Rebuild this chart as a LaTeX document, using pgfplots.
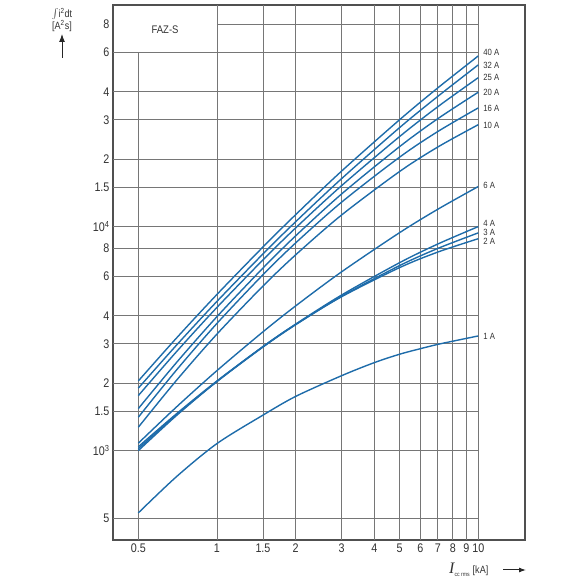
\documentclass[border=0pt]{standalone}
\usepackage{fontspec}
\setmainfont{Liberation Sans}[FakeStretch=0.86]
\newfontfamily\serifI{Liberation Serif}
\usepackage{pgfplots}
\pgfplotsset{compat=1.18}
\usetikzlibrary{arrows.meta}
\definecolor{curve}{RGB}{30,108,170}
\definecolor{gridc}{RGB}{118,118,118}
\definecolor{framec}{RGB}{80,80,80}
\definecolor{txt}{RGB}{50,50,50}
\tikzset{fuse/.style={curve, solid, line width=1.4pt, smooth, mark=none}}

\begin{document}
\begin{tikzpicture}[x=1pt,y=1pt]
\useasboundingbox (0,0) rectangle (580,580);
\begin{loglogaxis}[
  at={(113pt,40pt)}, anchor=south west,
  scale only axis, width=412pt, height=535pt,
  xmin=0.4, xmax=15.1, ymin=399, ymax=97600,
  axis line style={framec, line width=2pt},
  major tick length=0pt, minor tick length=0pt,
  xtick={0.5,1,1.5,2,3,4,5,6,7,8,9,10},
  xticklabels={0.5,1,1.5,2,3,4,5,6,7,8,9,10},
  ytick={500,1000,1500,2000,3000,4000,6000,8000,10000,15000,20000,30000,40000,60000,80000},
  yticklabels={5,10\textsuperscript{3},1.5,2,3,4,6,8,10\textsuperscript{4},1.5,2,3,4,6,8},
  tick label style={font=\fontsize{12.5}{14}\selectfont, text=txt},
  clip=false,
]
% grid: vertical lines
\pgfplotsinvokeforeach{1,1.5,2,3,4,5,6,7,8,9,10}{
  \draw[gridc, line width=0.9pt] (axis cs:#1,399) -- (axis cs:#1,97600);
}
\draw[gridc, line width=0.9pt] (axis cs:0.5,399) -- (axis cs:0.5,60000);
% grid: horizontal lines
\pgfplotsinvokeforeach{500,1000,1500,2000,3000,4000,6000,8000,10000,15000,20000,30000,40000,60000}{
  \draw[gridc, line width=0.9pt] (axis cs:0.4,#1) -- (axis cs:10,#1);
}
\draw[gridc, line width=0.9pt] (axis cs:1,80000) -- (axis cs:10,80000);

% 40 A
\addplot[fuse] coordinates {(0.5,2046) (0.7,3180) (1,4980) (1.5,8110) (2,11300) (3,17700) (5,30000) (7,41600) (10,57800)};
% 32 A
\addplot[fuse] coordinates {(0.5,1900) (0.7,2956) (1,4637) (1.5,7551) (2,10510) (3,16380) (5,27670) (7,38140) (10,52720)};
% 25 A
\addplot[fuse] coordinates {(0.5,1760) (0.7,2764) (1,4359) (1.5,7104) (2,9863) (3,15240) (5,25230) (7,34290) (10,46240)};
% 20 A
\addplot[fuse] coordinates {(0.5,1540) (0.7,2472) (1,3965) (1.5,6531) (2,9090) (3,13990) (5,22750) (7,30320) (10,39810)};
% 16 A
\addplot[fuse] coordinates {(0.5,1409) (0.7,2289) (1,3698) (1.5,6098) (2,8453) (3,12860) (5,20420) (7,26570) (10,33880)};
% 10 A
\addplot[fuse] coordinates {(0.5,1271) (0.7,2059) (1,3313) (1.5,5427) (2,7478) (3,11270) (5,17620) (7,22660) (10,28510)};
% 6 A
\addplot[fuse] coordinates {(0.5,1079) (0.7,1566) (1,2276) (1.5,3391) (2,4424) (3,6284) (5,9397) (7,11950) (10,15100)};
% 4 A
\addplot[fuse] coordinates {(0.5,1040) (0.7,1460) (1,2046) (1.5,2912) (2,3669) (3,4950) (5,6902) (7,8360) (10,10000)};
% 3 A
\addplot[fuse] coordinates {(0.5,1020) (0.7,1446) (1,2034) (1.5,2899) (2,3646) (3,4883) (5,6699) (7,7991) (10,9376)};
% 2 A
\addplot[fuse] coordinates {(0.5,1000) (0.7,1434) (1,2036) (1.5,2913) (2,3658) (3,4865) (5,6561) (7,7697) (10,8831)};
% 1 A
\addplot[fuse] coordinates {(0.5,527) (0.7,765) (1,1075) (1.5,1440) (2,1745) (3,2160) (4,2470) (5,2693) (6,2850) (7,2980) (8,3080) (10,3250)};

\begin{scope}[every node/.style={anchor=west, font=\fontsize{9}{10}\selectfont, text=txt, inner sep=0pt}]
\node at (axis cs:10.45,60060) {40 A};
\node at (axis cs:10.45,52550) {32 A};
\node at (axis cs:10.45,46240) {25 A};
\node at (axis cs:10.45,39630) {20 A};
\node at (axis cs:10.45,33650) {16 A};
\node at (axis cs:10.45,28360) {10 A};
\node at (axis cs:10.45,15200) {6 A};
\node at (axis cs:10.45,10350) {4 A};
\node at (axis cs:10.45,9440) {3 A};
\node at (axis cs:10.45,8605) {2 A};
\node at (axis cs:10.45,3250) {1 A};
\end{scope}
\node[font=\fontsize{11}{13}\selectfont, text=txt] at (axis cs:0.633,75500) {FAZ-S};
\end{loglogaxis}

% y label
\node[font=\fontsize{10.5}{12}\selectfont, text=txt, inner sep=0pt] at (62,566) {$\textstyle\int$i\textsuperscript{2}dt};
\node[font=\fontsize{10.5}{12}\selectfont, text=txt, inner sep=0pt] at (62,554) {[A\textsuperscript{2}s]};
\draw[-{Latex[length=8pt,width=6pt]}, line width=1pt, black!85] (62,522) -- (62,546);
% x label
\node[anchor=base west, inner sep=0pt, text=txt] at (449,6)
  {{\fontsize{16}{16}\selectfont\serifI\itshape I}\raisebox{-2pt}{\fontsize{6}{7}\selectfont cc rms}\hspace{3pt}{\fontsize{10.5}{12}\selectfont [kA]}};
\draw[-{Latex[length=7pt,width=5pt]}, line width=1pt, black!85] (503,10) -- (526,10);
\end{tikzpicture}
\end{document}
